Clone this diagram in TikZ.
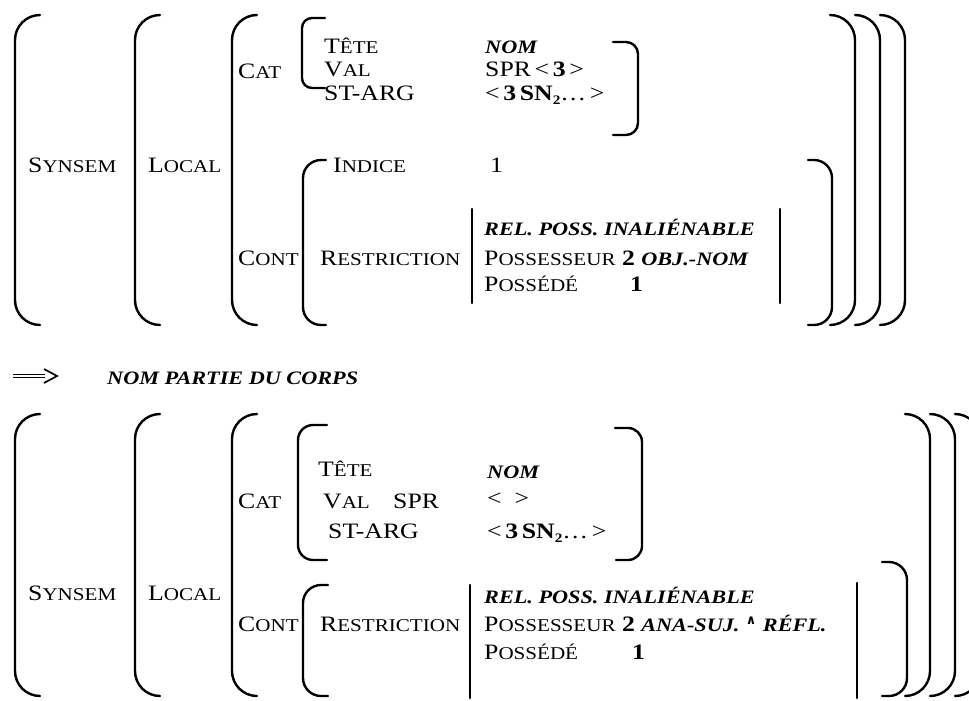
\documentclass[tikz,border=0pt]{standalone}
\usepackage{fontspec}
\setmainfont{Liberation Serif}[FakeStretch=1.17]
\newfontfamily\symf{DejaVu Sans}
\newcommand\Bg{\fontsize{22}{22}\selectfont}
\newcommand\Sm{\fontsize{18}{18}\selectfont}
\newcommand\fsc[2]{#1{\Sm #2}}
\newcommand\bis[1]{{\fontsize{19}{19}\selectfont\bfseries\itshape #1}}
\newcommand\subtwo{\raisebox{-0.22em}{\fontsize{13}{13}\selectfont\bfseries 2}}
\begin{document}
\begin{tikzpicture}[x=1pt,y=-1pt,
  br/.style={line width=2.4pt,line cap=round},
  txt/.style={anchor=base west,inner sep=0pt,font=\Bg}]
\useasboundingbox (0,0) rectangle (969,701);
% ---------------- top structure ----------------
\foreach \x in {15,135,232}
  \draw[br,rounded corners=25pt] (\x+25,15) -- (\x,15) -- (\x,325) -- (\x+25,325);
\foreach \x in {855,880,905}
  \draw[br,rounded corners=25pt] (\x-25,15) -- (\x,15) -- (\x,325) -- (\x-25,325);
\draw[br,rounded corners=10pt] (325,18) -- (302,18) -- (302,88) -- (325,88);
\draw[br,rounded corners=12pt] (613,42) -- (638,42) -- (638,135) -- (613,135);
\draw[br,rounded corners=18pt] (326,160) -- (303,160) -- (303,325) -- (326,325);
\draw[br,rounded corners=18pt] (808,160) -- (832,160) -- (832,325) -- (808,325);
\draw[br] (472,209) -- (472,303);
\draw[br] (780,209) -- (780,303);

\node[txt] (s1) at (28,172) {\fsc{S}{YNSEM}};
\node[txt] (l1) at (148,172) {\fsc{L}{OCAL}};
\node[txt] (c1) at (238,78) {\fsc{C}{AT}};
\node[txt] (t1) at (324,54) {\fsc{T}{ÊTE}};
\node[txt] (v1) at (324,77) {\fsc{V}{AL}};
\node[txt] (a1) at (324,100) {ST-ARG};
\node[txt] (n1) at (485,54) {\bis{NOM}};
\node[txt] (sp1) at (485,77) {SPR\,<\,\textbf{3}\,>};
\node[txt] (sn1) at (485,100) {<\,\textbf{3\,SN}\subtwo…\,>};
\node[txt] (i1) at (333,172) {\fsc{I}{NDICE}};
\node[txt] (one1) at (490,172) {1};
\node[txt] (ct1) at (238,265) {\fsc{C}{ONT}};
\node[txt] (r1) at (320,265) {\fsc{R}{ESTRICTION}};
\node[txt] (rel1) at (484,235) {\bis{REL. POSS. INALIÉNABLE}};
\node[txt] (po1) at (484,265) {\fsc{P}{OSSESSEUR} \textbf{2} \bis{OBJ.-NOM}};
\node[txt] (pd1) at (484,291) {\fsc{P}{OSSÉDÉ}};
\node[txt] (pv1) at (630,291) {\textbf{1}};

% ---------------- arrow ----------------
\draw[line width=1.1pt,double distance=2.2pt] (13,376) -- (45,376);
\draw[line width=1.7pt] (44,369) -- (57,376) -- (44,383);
\node[txt] (npc) at (107,384) {\bis{NOM PARTIE DU CORPS}};

% ---------------- bottom structure ----------------
\foreach \x in {15,135,232}
  \draw[br,rounded corners=25pt] (\x+25,414) -- (\x,414) -- (\x,696) -- (\x+25,696);
\foreach \x in {930,955,980}
  \draw[br,rounded corners=25pt] (\x-25,414) -- (\x,414) -- (\x,696) -- (\x-25,696);
\draw[br,rounded corners=15pt] (327,425) -- (298,425) -- (298,560) -- (327,560);
\draw[br,rounded corners=14pt] (615,428) -- (642,428) -- (642,560) -- (616,560);
\draw[br,rounded corners=18pt] (328,585) -- (303,585) -- (303,696) -- (328,696);
\draw[br,rounded corners=18pt] (882,562) -- (907,562) -- (907,696) -- (882,696);
\draw[br] (470,585) -- (470,698);
\draw[br] (857,583) -- (857,698);

\node[txt] (s2) at (28,600) {\fsc{S}{YNSEM}};
\node[txt] (l2) at (148,600) {\fsc{L}{OCAL}};
\node[txt] (c2) at (238,508) {\fsc{C}{AT}};
\node[txt] (t2) at (318,476) {\fsc{T}{ÊTE}};
\node[txt] (v2) at (323,508) {\fsc{V}{AL}};
\node[txt] (spr2) at (393,508) {SPR};
\node[txt] (a2) at (328,538) {ST-ARG};
\node[txt] (n2) at (487,478) {\bis{NOM}};
\node[txt] (e2) at (487,505) {<\ \ >};
\node[txt] (sn2) at (487,538) {<\,\textbf{3\,SN}\subtwo…\,>};
\node[txt] (ct2) at (238,631) {\fsc{C}{ONT}};
\node[txt] (r2) at (320,631) {\fsc{R}{ESTRICTION}};
\node[txt] (rel2) at (484,603) {\bis{REL. POSS. INALIÉNABLE}};
\node[txt] (po2) at (484,631) {\fsc{P}{OSSESSEUR} \textbf{2} \bis{ANA-SUJ.} \raisebox{0.3em}{\symf\bfseries\fontsize{13}{13}\selectfont ∧} \bis{RÉFL.}};
\node[txt] (pd2) at (484,659) {\fsc{P}{OSSÉDÉ}};
\node[txt] (pv2) at (632,659) {\textbf{1}};
\end{tikzpicture}
\end{document}
